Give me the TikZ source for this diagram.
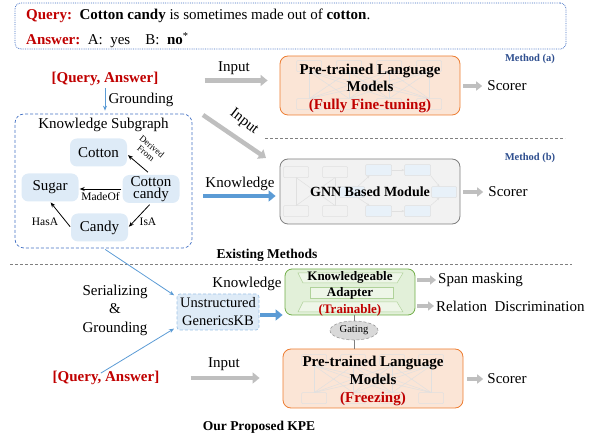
\documentclass[tikz,border=0pt]{standalone}
\usepackage{fontspec}
\setmainfont{Liberation Serif}
\usetikzlibrary{arrows.meta,positioning,shapes.geometric,calc}

\definecolor{qred}{HTML}{C00000}
\definecolor{mblue}{HTML}{2F4F8F}
\definecolor{boxblue}{HTML}{4472C4}
\definecolor{kgfill}{HTML}{DEEBF7}
\definecolor{plmfill}{HTML}{FBE5D6}
\definecolor{plmdraw}{HTML}{ED7D31}
\definecolor{gnnfill}{HTML}{F2F2F2}
\definecolor{gnndraw}{HTML}{7F7F7F}
\definecolor{adfill}{HTML}{E2F0D9}
\definecolor{addraw}{HTML}{70AD47}
\definecolor{arrgray}{HTML}{BFBFBF}
\definecolor{arrblue}{HTML}{5B9BD5}

\tikzset{
  f15/.style={font=\fontsize{15}{18}\selectfont, inner sep=1pt},
  f14/.style={font=\fontsize{14}{17}\selectfont, inner sep=1pt},
  f11/.style={font=\fontsize{11}{13}\selectfont, inner sep=1pt},
  qa/.style={f15, font=\fontsize{15}{18}\selectfont\bfseries, text=qred},
  method/.style={f11, font=\fontsize{10.5}{13}\selectfont\bfseries, text=mblue},
  qabox/.style={draw=boxblue, densely dotted, line width=0.8pt, rounded corners=6pt},
  subgbox/.style={draw=boxblue, densely dashed, line width=0.7pt, rounded corners=9pt},
  kgnode/.style={fill=kgfill, rounded corners=7pt, minimum width=57pt, minimum height=28pt,
    align=center, f15, font=\fontsize{15}{12}\selectfont},
  plmbox/.style={fill=plmfill, draw=plmdraw, line width=0.8pt, rounded corners=8pt,
    minimum width=180pt, minimum height=59pt},
  gnnbox/.style={fill=gnnfill, draw=gnndraw, line width=0.8pt, rounded corners=8pt,
    minimum width=180pt, minimum height=65pt},
  adbox/.style={fill=adfill, draw=addraw, line width=0.8pt, rounded corners=7pt,
    minimum width=130pt, minimum height=46pt},
  kbbox/.style={fill=kgfill, draw=arrblue!60, densely dashed, line width=0.7pt, rounded corners=3pt,
    minimum width=82pt, minimum height=36pt, align=center, f14, font=\fontsize{14.5}{18}\selectfont},
  gatenode/.style={ellipse, fill=black!15, draw=black!40, densely dashed, line width=0.6pt,
    minimum width=48pt, minimum height=19pt, inner sep=0pt, font=\fontsize{10.5}{12}\selectfont},
  grayarr/.style={draw=arrgray, line width=4.5pt, -{Triangle[length=7pt,width=11pt]}},
  smallarr/.style={draw=arrgray, line width=4pt, -{Triangle[length=6pt,width=9pt]}},
  bluearr/.style={draw=arrblue, line width=4.5pt, -{Triangle[length=7pt,width=11pt]}},
  bluethin/.style={draw=arrblue, line width=0.8pt, -{Stealth[length=5pt,width=4pt]}},
  kgarr/.style={draw=black, line width=0.8pt, -{Stealth[length=5pt,width=4pt]}},
  netline/.style={draw=black!12, line width=0.5pt},
  netbox/.style={draw=black!12, line width=0.5pt, rounded corners=1pt},
  netblue/.style={draw=black!12, fill=kgfill!70, line width=0.5pt, rounded corners=1pt},
  sepline/.style={draw=black!50, dashed, dash pattern=on 3pt off 2pt, line width=0.6pt},
}

\begin{document}
\begin{tikzpicture}[x=1pt,y=-1pt]
    \useasboundingbox (0,0) rectangle (592,435);

    % Query / answer box
    \node[qabox, minimum width=551pt, minimum height=46pt] (qabox) at (290.5,26) {};
    \node[f15, anchor=west] (query) at (25,16)
      {\textcolor{qred}{\textbf{Query:}}\ \ \textbf{Cotton candy} is sometimes made out of \textbf{cotton}.};
    \node[f15, anchor=west] (answer) at (25,40)
      {\textcolor{qred}{\textbf{Answer:}}\ \ A:\ \ yes\ \ \ \ B:\ \ \textbf{no}\textsuperscript{*}};

    % Existing methods
    \node[qa] (qa1) at (105,79) {[Query, Answer]};
    \node[method] (ma) at (530,59) {Method (a)};
    \node[method] (mb) at (530,158) {Method (b)};

    \node[plmbox] (plmA) at (370,85.5) {};
    \begin{scope}[shift={(plmA.north west)}]
      \foreach \i in {0,...,3} {
        \draw[netbox] (17+40*\i,5) rectangle ++(25,11);
        \draw[netbox] (17+40*\i,43) rectangle ++(25,11);
        \foreach \j in {0,...,3}
          \draw[netline] (29.5+40*\i,16) -- (29.5+40*\j,43);
      }
    \end{scope}
    \node[f15, font=\fontsize{15}{17.5}\selectfont\bfseries, align=center] (plmAtxt)
      at ([yshift=-2.5pt]plmA.center) {Pre-trained Language\\Models\\\textcolor{qred}{(Fully Fine-tuning)}};

    \node[gnnbox] (gnn) at (370,191.5) {};
    \begin{scope}[shift={(gnn.north west)}]
      \draw[netbox] (4,8) rectangle (29,19);
      \draw[netbox] (43,8) rectangle (68,19);
      \draw[netbox] (4,47) rectangle (29,58);
      \draw[netbox] (43,47) rectangle (68,58);
      \draw[netline] (16.5,19) -- (16.5,47);
      \draw[netline] (55.5,19) -- (55.5,47);
      \draw[netline] (16.5,19) -- (55.5,47);
      \draw[netline] (55.5,19) -- (16.5,47);
      \draw[netblue] (60,28) rectangle (85,39);
      \draw[netblue] (86,6) rectangle (112,17);
      \draw[netblue] (125,6) rectangle (151,17);
      \draw[netblue] (152,28) rectangle (177,39);
      \draw[netblue] (86,47) rectangle (112,58);
      \draw[netblue] (125,47) rectangle (151,58);
      \draw[netline, -{Stealth[length=3pt]}] (112,11.5) -- (125,11.5);
      \draw[netline, -{Stealth[length=3pt]}] (112,52.5) -- (125,52.5);
      \draw[netline, -{Stealth[length=3pt]}] (151,17) -- (160,28);
      \draw[netline, -{Stealth[length=3pt]}] (151,47) -- (160,39);
      \draw[netline, -{Stealth[length=3pt]}] (78,28) -- (90,17);
      \draw[netline, -{Stealth[length=3pt]}] (78,39) -- (90,47);
    \end{scope}
    \node[f14, font=\fontsize{14}{17}\selectfont\bfseries] (gnntxt) at (370,192) {GNN Based Module};

    \node[f15] (scoreA) at (507,86) {Scorer};
    \node[f15] (scoreB) at (508,192) {Scorer};
    \draw[smallarr, shorten <=3pt, shorten >=4pt] (plmA.east |- scoreA) -- (scoreA.west);
    \draw[smallarr, shorten <=3pt, shorten >=4pt] (gnn.east |- scoreB) -- (scoreB.west);

    % Input arrows
    \node[f15] (inA) at (234,68) {Input};
    \draw[grayarr, shorten <=45pt, shorten >=12pt] ([yshift=-1.5pt]qa1.east) -- ([yshift=-1.5pt]qa1.east -| plmA.west);
    \coordinate (in2s) at (203,115);
    \coordinate (in2e) at (266,158);
    \draw[grayarr] (in2s) -- (in2e);
    \node[f15, rotate=-38] (inB) at (244,122) {Input};
    \draw[sepline] (265,138) -- (565,138);

    % Knowledge subgraph
    \node[subgbox, minimum width=177pt, minimum height=134pt] (subg) at (103.5,181) {};
    \node[f15, below=3pt of subg.north] (subgtxt) {Knowledge Subgraph};
    \draw[bluethin, shorten <=1pt, shorten >=3pt] (qa1.south) -- (qa1.south |- subg.north);
    \node[f15] (grd) at (141,100) {Grounding};

    \node[kgnode] (cotton) at (98.5,152.5) {Cotton};
    \node[kgnode] (sugar) at (50,187.5) {Sugar};
    \node[kgnode] (ccandy) at (151,189) {Cotton\\candy};
    \node[kgnode] (candy) at (99.5,227.5) {Candy};

    \draw[kgarr, shorten <=4pt, shorten >=1pt] (ccandy.north) -- ([yshift=-2pt]cotton.east);
    \node[font=\fontsize{9}{9}\selectfont, align=center, rotate=-40, inner sep=0pt] (dfrom) at (149,150) {Derived\\From};
    \draw[kgarr, shorten <=1pt, shorten >=1pt] (ccandy.west) -- (ccandy.west -| sugar.east)
      node[midway, below=2.5pt, f11, font=\fontsize{11.5}{13}\selectfont] {MadeOf};
    \draw[kgarr, shorten <=2pt, shorten >=1pt] (ccandy.south) -- (candy.east);
    \node[f11, font=\fontsize{11.5}{13}\selectfont] (isa) at (148,222) {IsA};
    \draw[kgarr, shorten <=1pt, shorten >=1pt] (candy.west) -- (sugar.south);
    \node[f11, font=\fontsize{11.5}{13}\selectfont] (hasa) at (45,222) {HasA};

    % Knowledge arrow (b)
    \node[f15] (knA) at (240,184) {Knowledge};
    \coordinate (kn1) at (203,196);
    \draw[bluearr, shorten >=4pt] (kn1) -- (kn1 -| gnn.west);

    \node[f14, font=\fontsize{13.5}{16}\selectfont\bfseries] (exist) at (267,255) {Existing Methods};
    \draw[sepline] (10,264) -- (572,264);

    % Our proposed KPE
    \node[f15, align=center, font=\fontsize{15}{18.5}\selectfont] (serial) at (115,310) {Serializing\\\&\\Grounding};
    \node[kbbox] (kb) at (218,312) {Unstructured\\GenericsKB};
    \node[qa] (qa2) at (106,378) {[Query, Answer]};
    \draw[bluethin, shorten <=2pt, shorten >=3pt] (subg.south) -- (kb.160);
    \draw[bluethin, shorten <=-6pt, shorten >=3pt] (qa2.north) -- (kb.200);

    \node[adbox] (adapter) at (350,292) {};
    \begin{scope}[draw=addraw!55, fill=adfill!60!white, line width=0.5pt]
      \filldraw (298,273) -- (403,273) -- (397,283) -- (303,283) -- cycle;
      \filldraw (310,287) rectangle (393,298);
      \filldraw (303,302) -- (397,302) -- (403,312) -- (298,312) -- cycle;
    \end{scope}
    \node[f14, font=\fontsize{13}{16.5}\selectfont\bfseries, align=center] (adtxt)
      at ([yshift=-1.5pt]adapter.center) {Knowledgeable\\Adapter\\\textcolor{qred}{(Trainable)}};

    \node[f15] (knB) at (247,284) {Knowledge};
    \draw[bluearr, shorten <=1pt, shorten >=2pt] ([yshift=-3pt]kb.east) -- ([yshift=-3pt]kb.east -| adapter.west);

    \node[f15, anchor=west] (span) at (437,280) {Span masking};
    \node[f15, anchor=west] (reldis) at (435,306) {Relation\ \ Discrimination};
    \draw[smallarr, shorten <=2pt, shorten >=1pt] (adapter.east |- span) -- (span.west);
    \draw[smallarr, shorten <=2pt, shorten >=1pt] (adapter.east |- reldis) -- (reldis.west);

    \node[gatenode] (gating) at (354,330.5) {Gating};
    \node[plmbox] (plmK) at (373,378.5) {};
    \begin{scope}[shift={(plmK.north west)}]
      \foreach \i in {0,...,3} {
        \draw[netbox] (19+39*\i,6) rectangle ++(25,11);
        \draw[netbox] (19+39*\i,44) rectangle ++(25,11);
        \foreach \j in {0,...,3}
          \draw[netline] (31.5+39*\i,17) -- (31.5+39*\j,44);
      }
    \end{scope}
    \node[f15, font=\fontsize{15}{18}\selectfont\bfseries, align=center] (plmKtxt)
      at ([yshift=-2pt]plmK.center) {Pre-trained Language\\Models\\\textcolor{qred}{(Freezing)}};
    \draw[gnndraw, line width=0.8pt] (adapter.south -| gating) -- (gating.north);
    \draw[gnndraw, line width=0.8pt] (gating.south) -- (gating.south |- plmK.north);

    \node[f15] (inK) at (224,364) {Input};
    \draw[grayarr, shorten <=30pt, shorten >=23pt] (qa2.east) -- (qa2.east -| plmK.west);
    \node[f15] (scoreK) at (507,379) {Scorer};
    \draw[smallarr, shorten <=4pt, shorten >=3pt] (plmK.east |- scoreK) -- (scoreK.west);

    \node[f14, font=\fontsize{13.5}{16}\selectfont\bfseries] (ours) at (259,427) {Our Proposed KPE};
\end{tikzpicture}
\end{document}
